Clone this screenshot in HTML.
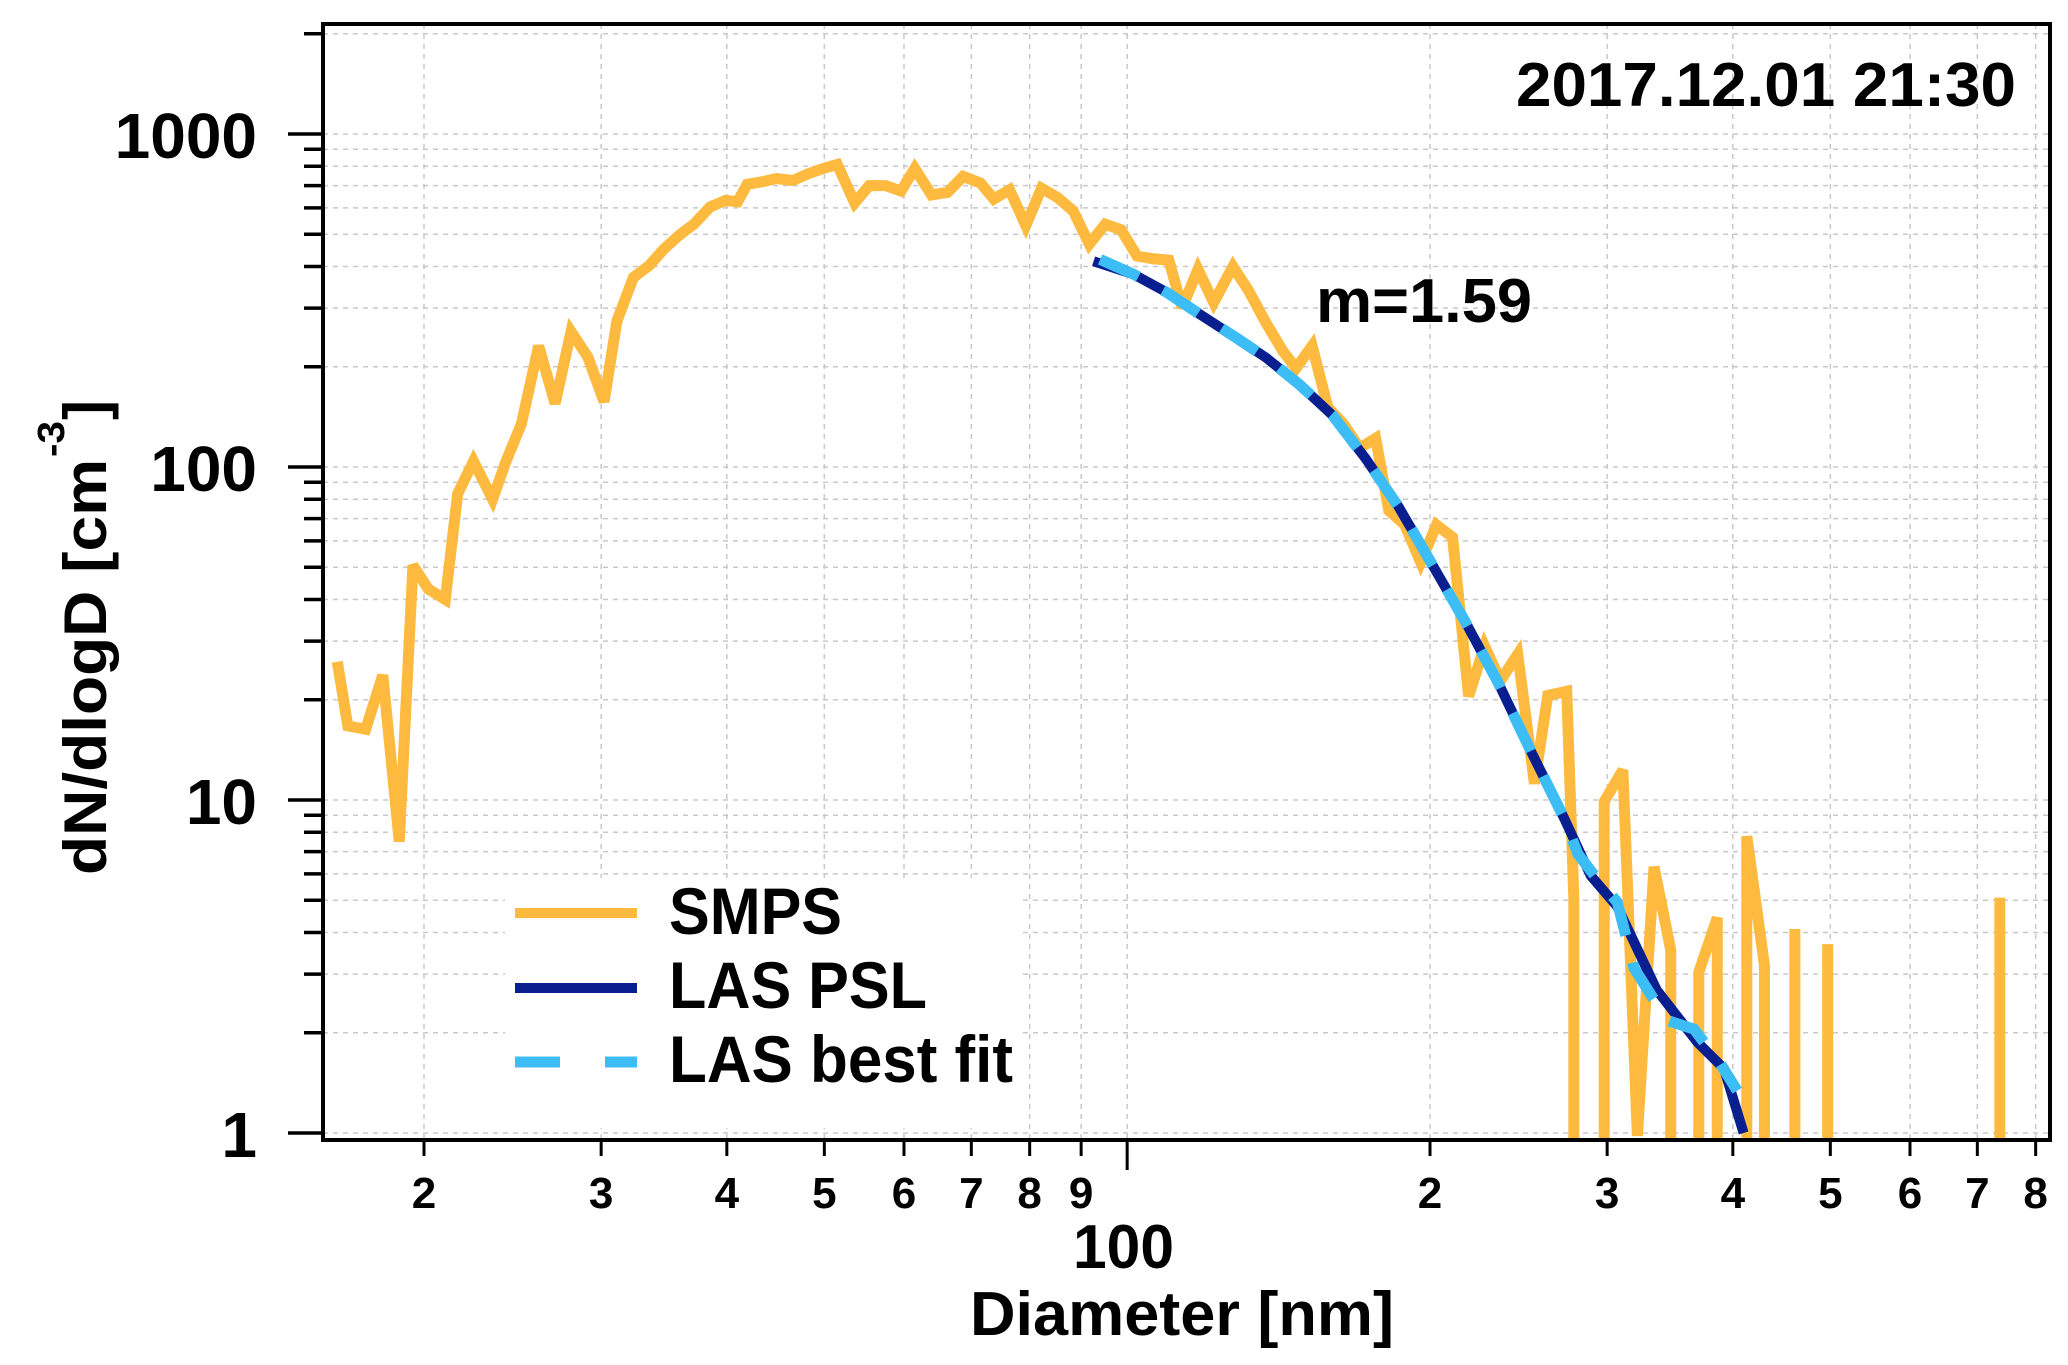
<!DOCTYPE html>
<html><head><meta charset="utf-8"><style>
html,body{margin:0;padding:0;background:#fff;}
svg{display:block;}
text{font-family:"Liberation Sans",Arial,sans-serif;font-weight:bold;fill:#000;}
</style></head><body>
<svg id="chart" width="2068" height="1365" viewBox="0 0 2068 1365" xmlns="http://www.w3.org/2000/svg">
<defs><clipPath id="plotclip"><rect x="323" y="24" width="1727" height="1116"/></clipPath></defs>
<rect x="0" y="0" width="2068" height="1365" fill="#fff"/>
<g id="grid"></g>
<g id="series" clip-path="url(#plotclip)"></g>
<g id="axes"></g>
<rect x="323" y="24" width="1727" height="1116" fill="none" stroke="#000" stroke-width="4"/>
<text x="1516" y="106" font-size="62" textLength="500" lengthAdjust="spacingAndGlyphs">2017.12.01 21:30</text>
<text x="1316" y="322" font-size="62" textLength="216" lengthAdjust="spacingAndGlyphs">m=1.59</text>
<g>
<rect x="505" y="878" width="516" height="250" fill="#fff"/>
<line x1="515" y1="913" x2="637" y2="913" stroke="#FDBA3F" stroke-width="10"/>
<text x="669" y="934" font-size="66" textLength="173" lengthAdjust="spacingAndGlyphs">SMPS</text>
<line x1="515" y1="988" x2="637" y2="988" stroke="#0A1F8F" stroke-width="10"/>
<text x="669" y="1008" font-size="66" textLength="258" lengthAdjust="spacingAndGlyphs">LAS PSL</text>
<line x1="515" y1="1062" x2="560" y2="1062" stroke="#3DBDF5" stroke-width="11"/>
<line x1="605" y1="1062" x2="637" y2="1062" stroke="#3DBDF5" stroke-width="11"/>
<text x="669" y="1082" font-size="66" textLength="344" lengthAdjust="spacingAndGlyphs">LAS best fit</text>
</g>
<text x="1073" y="1268" font-size="62" textLength="101" lengthAdjust="spacingAndGlyphs">100</text>
<text x="970" y="1335" font-size="62" textLength="424" lengthAdjust="spacingAndGlyphs">Diameter [nm]</text>
<g transform="translate(106,875) rotate(-90)">
<text x="0" y="0" font-size="60" textLength="416" lengthAdjust="spacingAndGlyphs">dN/dlogD [cm</text>
<text x="418" y="-42" font-size="38" textLength="36" lengthAdjust="spacingAndGlyphs">-3</text>
<text x="455" y="0" font-size="60" textLength="20" lengthAdjust="spacingAndGlyphs">]</text>
</g>
</svg>
<script>
const smpsD = [16.4,16.8,17.5,18.2,18.9,19.5,20.2,21.0,21.6,22.4,23.4,24.1,25.0,26.0,27.0,28.0,29.1,30.2,31.1,32.3,33.5,34.6,35.9,37.1,38.5,39.9,41.0,41.9,43.5,44.8,46.5,48.2,50.0,51.5,53.6,55.4,57.5,59.6,61.5,63.9,66.3,68.7,71.5,73.7,76.4,79.3,82.2,85.3,88.4,91.7,95.1,98.6,102.3,106.1,110,113.4,117.6,121.9,127.4,132,137.3,142.8,147.2,152.7,158.3,164,170.3,176.6,182,188.8,195.8,203,210.6,218.5,226.6,235,244.5,254,261.9,273.5,278,283,288,293,298,311,321.5,334,347,359,370,386,398,413,430,445,461,479,497,520,600,700,737,760];
const smpsV = [26,16.7,16.3,23.7,7.5,50.7,43,40,83,104,80,103,135,231,155,255,214,157,274,371,403,450,498,536,604,632,626,706,720,735,725,760,790,810,621,700,700,674,788,656,668,746,712,638,680,531,687,644,587,467,536,516,430,422,418,301,392,312,400,339,272,223,198,231,151,135,114,122,74,67,51.7,67,61.5,20.5,29,22.8,27.4,11.2,20.6,21.2,5.0,0,0,0,9.9,12.3,0.98,6.3,3.54,0,3.04,4.43,0,7.78,3.19,0,4.1,0,3.69,0,0,0,5.09,0];
const pslD = [92.6,101.5,109.4,118,127.4,137.4,148.3,160,172.6,186.2,200.9,216.7,233.8,252.3,272,289,307,336,369,392,410];
const pslV = [415,379,335,288,248,213,177,143,106,75.8,51.1,34.4,22.5,13.9,8.79,5.92,4.79,2.69,1.87,1.56,1.0];
const fitD = [94,101.5,109.4,118,127.4,137.4,148.3,160,172.6,186.2,200.9,216.7,233.8,252.3,272,280.5,293.8,307,319,344,366,389,404];
const fitV = [420,379,335,288,248,213,177,143,106,75.8,51.1,34.4,22.5,13.9,8.79,6.89,5.75,4.94,3.13,2.18,2.05,1.61,1.34];
const yMajorTicks = [1,10,100,1000];
const yMajorLabels = ["1","10","100","1000"];
const xTickValues = [20,30,40,50,60,70,80,90,200,300,400,500,600,700,800];
const xTickLabels = ["2","3","4","5","6","7","8","9","2","3","4","5","6","7","8"];

const NS = "http://www.w3.org/2000/svg";
function X(d){ return 424 + 1006*Math.log10(d/20); }
function Y(v){ return 1133 - 333*Math.log10(v); }
function mk(tag, attrs, parent){ const e=document.createElementNS(NS,tag); for(const k in attrs) e.setAttribute(k,attrs[k]); parent.appendChild(e); return e; }
const grid=document.getElementById('grid'), axes=document.getElementById('axes'), series=document.getElementById('series');

const xGridVals = xTickValues.concat([100]);
xGridVals.forEach(d=>{
  const l=mk('line',{x1:X(d),x2:X(d),y1:24,y2:1140,stroke:'#c8c8c8','stroke-width':1.5,'stroke-dasharray':'5,5'},grid);
  
  
});
xTickValues.forEach((d,i)=>{
  const t=mk('line',{x1:X(d),x2:X(d),y1:1140,y2:1156,stroke:'#000','stroke-width':3},axes);
  
  
  const tx=mk('text',{x:X(d),y:1208,'font-size':44,'text-anchor':'middle'},axes);
  tx.textContent=xTickLabels[i];
  
  
});
const t100=mk('line',{x1:X(100),x2:X(100),y1:1140,y2:1170,stroke:'#000','stroke-width':3},axes);



for(let e=0;e<4;e++){
  for(let m=1;m<=9;m++){
    const v=m*Math.pow(10,e);
    if(Y(v)<24) continue;
    const g=mk('line',{x1:323,x2:2050,y1:Y(v),y2:Y(v),stroke:'#c8c8c8','stroke-width':1.5,'stroke-dasharray':'5,5'},grid);
    
    
    const tk=mk('line',{x1:(m===1?288:304),x2:323,y1:Y(v),y2:Y(v),stroke:'#000','stroke-width':3.5},axes);
    
    
  }
}
yMajorTicks.forEach((v,i)=>{
  const tx=mk('text',{x:257,y:Y(v)+24,'font-size':64,'text-anchor':'end'},axes);
  tx.textContent=yMajorLabels[i];
  
  
});

let dstr='', prevZero=true, x0=0;
for(let i=0;i<smpsD.length;i++){
  const x=X(smpsD[i]);
  if(smpsV[i]<=0){
    if(!prevZero) dstr+=' L'+x0+' 1200';
    prevZero=true; continue;
  }
  const y=Y(smpsV[i]);
  if(prevZero){ dstr+=(i===0?' M'+x+' '+y:' M'+x+' 1200 L'+x+' '+y); }
  else dstr+=' L'+x+' '+y;
  x0=x; prevZero=false;
}
const smps=mk('path',{d:dstr,fill:'none',stroke:'#FDBA3F','stroke-width':11,'stroke-linejoin':'miter','stroke-miterlimit':3},series);



const psl=mk('polyline',{points:pslD.map((d,i)=>X(d)+','+Y(pslV[i])).join(' '),fill:'none',stroke:'#0A1F8F','stroke-width':10},series);



const fit=mk('polyline',{points:fitD.map((d,i)=>X(d)+','+Y(fitV[i])).join(' '),fill:'none',stroke:'#3DBDF5','stroke-width':11,'stroke-dasharray':'42,28'},series);


</script>
</body></html>
